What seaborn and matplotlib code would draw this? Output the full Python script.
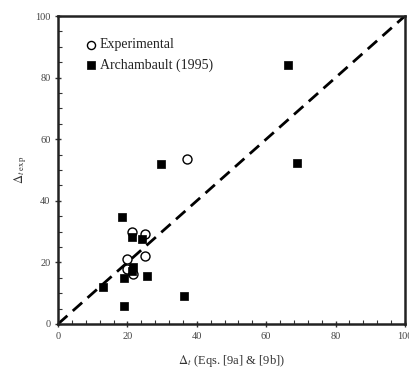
import matplotlib
matplotlib.use("Agg")
import matplotlib.pyplot as plt
import seaborn as sns
import pandas as pd
from matplotlib.ticker import MultipleLocator

# Data
exp_x = [37.3, 21.4, 25.2, 19.8, 25.2, 19.8, 21.7]
exp_y = [53.5, 30.0, 29.3, 21.0, 22.1, 18.0, 16.2]

arch_x = [66.3, 69.0, 29.8, 18.4, 21.4, 24.3, 21.7, 21.4, 19.1, 25.7, 13.0, 36.2, 19.1]
arch_y = [84.2, 52.2, 51.9, 34.8, 28.4, 27.6, 18.6, 17.3, 14.8, 15.6, 11.9, 9.2, 6.0]

line_x = [0, 100]
line_y = [0, 100]

series_names = ["Experimental", "Archambault (1995)"]
x_label = r"$\Delta_t$ (Eqs. [9a] & [9b])"
y_label = r"$\Delta_{t\ \mathrm{exp}}$"

sns.set_style("ticks")
plt.rcParams["font.family"] = ["Liberation Serif", "DejaVu Serif"]
plt.rcParams["mathtext.fontset"] = "stix"

fig = plt.figure(figsize=(4.1, 3.71), dpi=100)
ax = fig.add_axes([0.1415, 0.1267, 0.846, 0.830])

df_exp = pd.DataFrame({"x": exp_x, "y": exp_y})
df_arch = pd.DataFrame({"x": arch_x, "y": arch_y})
df_line = pd.DataFrame({"x": line_x, "y": line_y})

sns.lineplot(data=df_line, x="x", y="y", ax=ax, color="black", lw=2.0,
             linestyle=(0, (4.5, 2.6)), zorder=1)
sns.scatterplot(data=df_exp, x="x", y="y", ax=ax, marker="o", s=42,
                facecolor="white", edgecolor="black", linewidth=1.0,
                label=series_names[0], zorder=3)
sns.scatterplot(data=df_arch, x="x", y="y", ax=ax, marker="s", s=36,
                color="black", edgecolor="black", linewidth=0.5,
                label=series_names[1], zorder=4)

ax.set_xlim(0, 100)
ax.set_ylim(0, 100)
ax.xaxis.set_major_locator(MultipleLocator(20))
ax.xaxis.set_minor_locator(MultipleLocator(4))
ax.yaxis.set_major_locator(MultipleLocator(20))
ax.yaxis.set_minor_locator(MultipleLocator(5))
ax.tick_params(which="major", direction="inout", length=5, width=1.0,
               labelsize=7.5, colors="#333333", pad=3)
ax.tick_params(which="minor", direction="in", length=3, width=0.8, colors="#333333")
ax.tick_params(axis="both", labelcolor="#444444")

for s in ax.spines.values():
    s.set_visible(True)
    s.set_linewidth(1.8)
    s.set_color("#222222")

ax.set_xlabel(x_label, fontsize=9, color="#333333", labelpad=9)
ax.set_ylabel(y_label, fontsize=9, color="#333333", labelpad=4)

leg = ax.legend(loc="upper left", bbox_to_anchor=(0.052, 0.955), frameon=False,
                fontsize=10, handletextpad=0.1, borderaxespad=0.2,
                labelspacing=0.5, handlelength=1.0, markerscale=0.9)
for t in leg.get_texts():
    t.set_color("#222222")

fig.savefig("out.png", dpi=100)
